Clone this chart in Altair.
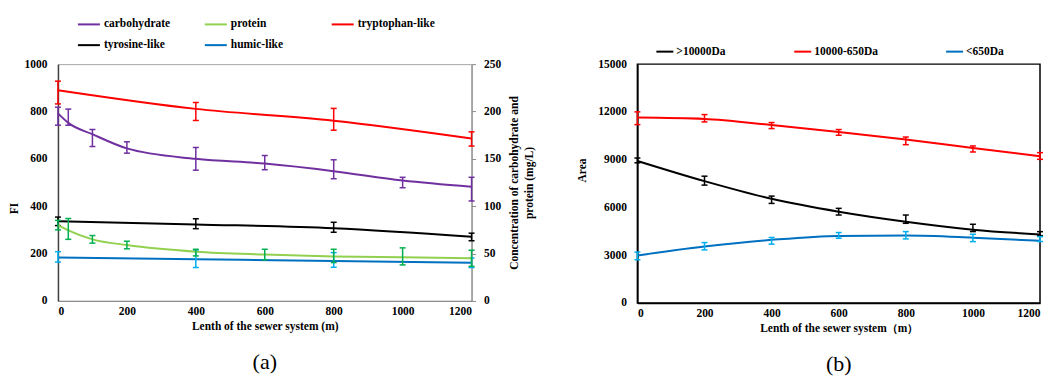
import altair as alt
import pandas as pd

FONT = "Liberation Serif"

# ---------------- panel (a) ----------------
# concentration series (right axis, mg/L)
x_conc = [0, 30, 100, 200, 400, 600, 800, 1000, 1200]
carb_fit = [198, 188, 176, 161, 150, 145, 137, 127, 120.5]
carb_mean = [195, 194, 172, 162, 150, 146, 139, 125, 118]
carb_err = [9.5, 8.5, 9, 6, 12, 7.5, 10, 5.5, 12.5]
prot_fit = [80, 74.5, 65, 59, 52, 49, 47, 46, 45]
prot_mean = [80, 76, 65, 59, 51, 49, 47.5, 47, 45]
prot_err = [5, 11, 4, 4, 3.5, 5.5, 7, 9, 8.5]

# fluorescence series (left axis, FI)
x_fi = [0, 400, 800, 1200]
trp_fit = [890, 811, 761, 686]
trp_mean = [880, 800, 767, 684]
trp_err = [48, 38, 46, 30]
tyr_fit = [337, 323, 307, 271]
tyr_mean = [336, 326, 311, 270]
tyr_err = [18, 21, 21, 16]
hum_fit = [183, 176, 169, 161]
hum_mean = [186, 176, 173, 161]
hum_err = [22, 35, 31, 20]

series_a = ["carbohydrate", "protein", "tryptophan-like", "tyrosine-like", "humic-like"]
colors_a = ["#7030a0", "#92d050", "#ff0000", "#000000", "#0070c0"]

# ---------------- panel (b) ----------------
x_b = [0, 200, 400, 600, 800, 1000, 1200]
big_fit = [8920, 7650, 6540, 5730, 5100, 4600, 4300]
big_mean = [8950, 7680, 6480, 5730, 5260, 4710, 4350]
big_err = [150, 280, 230, 210, 260, 230, 125]
mid_fit = [11640, 11560, 11170, 10740, 10270, 9730, 9210]
mid_mean = [11600, 11600, 11140, 10710, 10180, 9670, 9230]
mid_err = [400, 230, 190, 180, 240, 190, 210]
small_fit = [2980, 3540, 3960, 4210, 4230, 4100, 3900]
small_mean = [2950, 3560, 3900, 4240, 4250, 4080, 4010]
small_err = [240, 230, 210, 180, 230, 230, 155]

series_b = [">10000Da", "10000-650Da", "<650Da"]
colors_b = ["#000000", "#ff0000", "#0070c0"]

x_ticks = [0, 200, 400, 600, 800, 1000, 1200]


def rows(series, xs, fit, mean, err, ecolor):
    return [
        dict(series=series, x=x, fit=f, lo=m - e, hi=m + e, ecolor=ecolor)
        for x, f, m, e in zip(xs, fit, mean, err)
    ]


df_fi = pd.DataFrame(
    rows("tryptophan-like", x_fi, trp_fit, trp_mean, trp_err, "#ff0000")
    + rows("tyrosine-like", x_fi, tyr_fit, tyr_mean, tyr_err, "#000000")
    + rows("humic-like", x_fi, hum_fit, hum_mean, hum_err, "#00b0f0")
)
df_conc = pd.DataFrame(
    rows("carbohydrate", x_conc, carb_fit, carb_mean, carb_err, "#7030a0")
    + rows("protein", x_conc, prot_fit, prot_mean, prot_err, "#00b050")
)
df_b = pd.DataFrame(
    rows(">10000Da", x_b, big_fit, big_mean, big_err, "#000000")
    + rows("10000-650Da", x_b, mid_fit, mid_mean, mid_err, "#ff0000")
    + rows("<650Da", x_b, small_fit, small_mean, small_err, "#00b0f0")
)


def series_layer(df, xenc, yscale, yaxis, color):
    base = alt.Chart(df)
    line = base.mark_line(strokeWidth=2, interpolate="monotone").encode(
        x=xenc, y=alt.Y("fit:Q", scale=yscale, axis=yaxis), color=color
    )
    rule = base.mark_rule(strokeWidth=1.5).encode(
        x=xenc,
        y=alt.Y("lo:Q", scale=yscale, axis=yaxis),
        y2="hi:Q",
        stroke=alt.Stroke("ecolor:N", scale=None),
    )
    cap_lo = base.mark_tick(orient="horizontal", size=6, thickness=1.5, opacity=1).encode(
        x=xenc, y=alt.Y("lo:Q", scale=yscale, axis=yaxis), fill=alt.Fill("ecolor:N", scale=None)
    )
    cap_hi = base.mark_tick(orient="horizontal", size=6, thickness=1.5, opacity=1).encode(
        x=xenc, y=alt.Y("hi:Q", scale=yscale, axis=yaxis), fill=alt.Fill("ecolor:N", scale=None)
    )
    return alt.layer(line, rule, cap_lo, cap_hi)


# ---- panel (a) ----
xa = alt.X(
    "x:Q",
    scale=alt.Scale(domain=[0, 1200], nice=False),
    axis=alt.Axis(
        values=x_ticks, format="d", title="Lenth of the sewer system (m)", ticks=False,
        domainColor="#8c8c8c", domainWidth=1.2, labelPadding=5, titlePadding=3,
    ),
)
leg_a = alt.Legend(
    orient="none", legendX=19, legendY=-52, columns=3, direction="horizontal",
    symbolType="stroke", symbolSize=484, symbolStrokeWidth=2, labelOffset=3,
    gridAlign="all", columnPadding=19, rowPadding=3, title=None,
    labelFont=FONT, labelFontSize=11.5, labelFontWeight="bold", labelColor="black",
)
color_a = alt.Color("series:N", scale=alt.Scale(domain=series_a, range=colors_a), legend=leg_a)

axis_left_a = alt.Axis(
    values=[0, 200, 400, 600, 800, 1000], format="d", title="FI", ticks=False,
    domainColor="#404040", domainWidth=1.5, labelPadding=11,
    titleX=-43, titleY=144, titleBaseline="middle", titleAngle=270,
)
axis_right_a = alt.Axis(
    orient="right", values=[0, 50, 100, 150, 200, 250], format="d",
    title=["Concentration of carbohydrate and", "protein (mg/L)"],
    ticks=True, tickSize=4, tickColor="#8c8c8c", domainColor="#8c8c8c", domainWidth=1.2,
    labelPadding=8, titleAngle=270, titleBaseline="top", titleLineHeight=15, titlePadding=-7,
)
left_a = series_layer(df_fi, xa, alt.Scale(domain=[0, 1000], nice=False), axis_left_a, color_a)
right_a = series_layer(df_conc, xa, alt.Scale(domain=[0, 250], nice=False), axis_right_a, color_a)

panel_a = (
    alt.layer(left_a, right_a)
    .resolve_scale(y="independent")
    .properties(
        width=414, height=237,
        view=alt.ViewBackground(stroke="#a6a6a6", strokeWidth=1),
        title=alt.TitleParams("(a)", orient="bottom", anchor="middle", offset=20,
                              font=FONT, fontSize=22, fontWeight="normal", color="black"),
    )
)

# ---- panel (b) ----
xb = alt.X(
    "x:Q",
    scale=alt.Scale(domain=[0, 1200], nice=False),
    axis=alt.Axis(
        values=x_ticks, format="d", title="Lenth of the sewer system（m）", ticks=False,
        domainColor="black", domainWidth=1.5, labelPadding=5, titlePadding=3,
    ),
)
leg_b = alt.Legend(
    orient="none", legendX=18, legendY=-22, columns=3, direction="horizontal",
    symbolType="stroke", symbolSize=289, symbolStrokeWidth=2, labelOffset=2,
    columnPadding=64, title=None,
    labelFont=FONT, labelFontSize=11.5, labelFontWeight="bold", labelColor="black",
)
color_b = alt.Color("series:N", scale=alt.Scale(domain=series_b, range=colors_b), legend=leg_b)
axis_left_b = alt.Axis(
    values=[0, 3000, 6000, 9000, 12000, 15000], format="d", title="Area", ticks=False,
    domainColor="black", domainWidth=1.5, labelPadding=11,
    titleX=-55, titleY=106, titleBaseline="middle", titleAngle=270,
)
panel_b = series_layer(df_b, xb, alt.Scale(domain=[0, 15000], nice=False), axis_left_b, color_b).properties(
    width=403, height=239,
    view=alt.ViewBackground(stroke="black", strokeWidth=1.5),
    title=alt.TitleParams("(b)", orient="bottom", anchor="middle", offset=20,
                          font=FONT, fontSize=22, fontWeight="normal", color="black"),
)

chart = (
    alt.hconcat(panel_a, panel_b, spacing=166, bounds="flush")
    .resolve_scale(color="independent")
    .properties(padding={"left": 0, "top": 3, "right": 0, "bottom": 5})
    .configure_axis(
        grid=False,
        labelFont=FONT, labelFontSize=11.5, labelFontWeight="bold", labelColor="black",
        titleFont=FONT, titleFontSize=11.5, titleFontWeight="bold", titleColor="black",
    )
    .configure_view(stroke=None)
)

chart.save("out.html", embed_options={"renderer": "svg", "actions": False})
